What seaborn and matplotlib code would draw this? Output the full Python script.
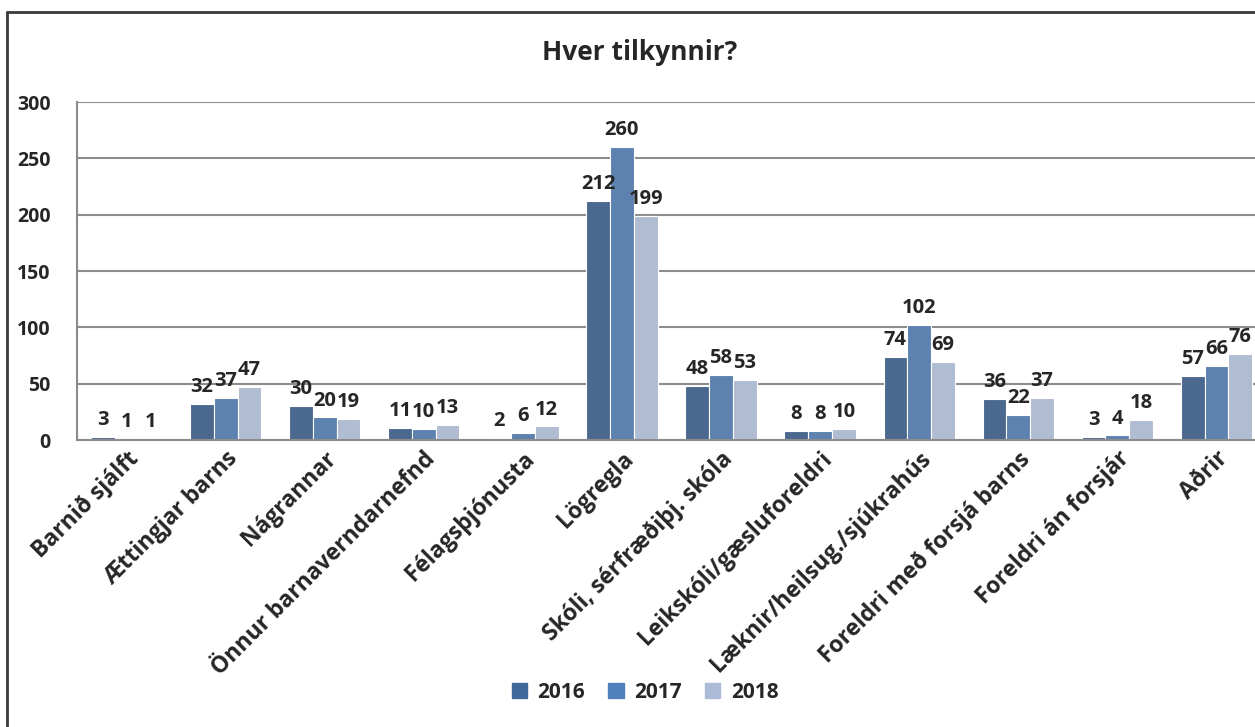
import pandas as pd
import matplotlib
matplotlib.use("Agg")
import matplotlib.pyplot as plt
import seaborn as sns
from matplotlib.lines import Line2D

categories = ["Barnið sjálft", "Ættingjar barns", "Nágrannar", "Önnur barnaverndarnefnd",
              "Félagsþjónusta", "Lögregla", "Skóli, sérfræðiþj. skóla", "Leikskóli/gæsluforeldri",
              "Læknir/heilsug./sjúkrahús", "Foreldri með forsjá barns", "Foreldri án forsjár", "Aðrir"]
years = ["2016", "2017", "2018"]
v2016 = [3, 32, 30, 11, 2, 212, 48, 8, 74, 36, 3, 57]
v2017 = [1, 37, 20, 10, 6, 260, 58, 8, 102, 22, 4, 66]
v2018 = [1, 47, 19, 13, 12, 199, 53, 10, 69, 37, 18, 76]
colors = ["#40689A", "#4F81BD", "#AABAD7"]

rows = []
for yr, vals in zip(years, [v2016, v2017, v2018]):
    for c, v in zip(categories, vals):
        rows.append({"cat": c, "year": yr, "val": v})
df = pd.DataFrame(rows)

sns.set_style("white")
plt.rcParams["font.family"] = ["Open Sans", "DejaVu Sans"]
plt.rcParams["font.weight"] = "bold"

W, H = 1255, 727
fig = plt.figure(figsize=(W / 100, H / 100), dpi=100)
ax = fig.add_axes([77 / W, 1 - 440 / H, (1266 - 77) / W, 338 / H])

sns.barplot(data=df, x="cat", y="val", hue="year", palette=colors, order=categories,
            hue_order=years, width=0.72, edgecolor="white", linewidth=0.8, ax=ax)

for cont in ax.containers:
    ax.bar_label(cont, padding=5, fontsize=14.5, fontweight="bold")

ax.set_ylim(0, 300)
ax.set_xlim(-0.5, len(categories) - 0.5)
ax.set_yticks([0, 50, 100, 150, 200, 250, 300])
ax.yaxis.grid(True, color="#8c8c8c", linewidth=1.5)
ax.set_axisbelow(True)
for s in ["top", "right"]:
    ax.spines[s].set_visible(False)
for s in ["left", "bottom"]:
    ax.spines[s].set_color("#8c8c8c")
    ax.spines[s].set_linewidth(1.5)
ax.tick_params(axis="y", length=0, pad=19, labelsize=14)
ax.tick_params(axis="x", length=0, pad=5, labelsize=16.5)
plt.setp(ax.get_xticklabels(), rotation=45, ha="right", rotation_mode="anchor", fontweight="bold")
plt.setp(ax.get_yticklabels(), fontweight="bold")
ax.set_xlabel("")
ax.set_ylabel("")

ax.legend_.remove()
handles = [plt.Rectangle((0, 0), 1, 1, color=c) for c in colors]
fig.legend(handles, years, loc="center", bbox_to_anchor=(645 / W, 1 - 692 / H), ncol=3,
           frameon=False, prop={"weight": "bold", "size": 15},
           handlelength=0.75, handleheight=0.75, handletextpad=0.5, columnspacing=1.1)

fig.text(640 / W, 1 - 52 / H, "Hver tilkynnir?", ha="center", va="center",
         fontsize=19, fontweight="bold")

# chart frame
fig.add_artist(Line2D([7 / W, 7 / W], [0, 1 - 12 / H], color="#3a3a3a", linewidth=2))
fig.add_artist(Line2D([7 / W, 1], [1 - 12 / H, 1 - 12 / H], color="#3a3a3a", linewidth=2))

fig.savefig("out.png", dpi=100)
